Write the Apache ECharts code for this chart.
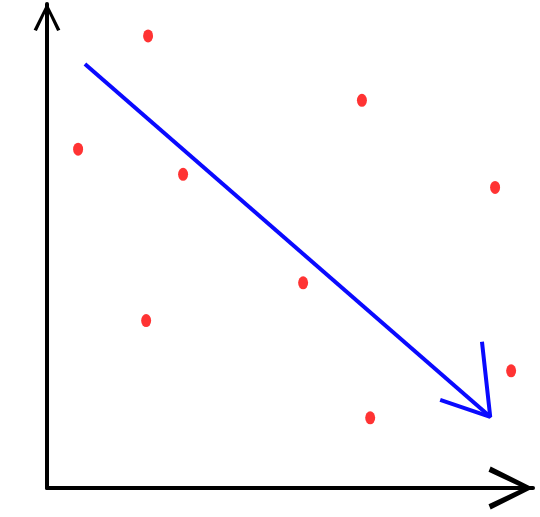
<!DOCTYPE html>
<html>
<head>
<meta charset="utf-8">
<script src="https://cdn.jsdelivr.net/npm/echarts@6/dist/echarts.min.js"></script>
<style>html,body{margin:0;padding:0;background:#fff}#c{width:540px;height:517px}</style>
</head>
<body>
<div id="c"></div>
<script>
var dotX = [2.08, 6.48, 0.64, 2.80, 9.22, 5.27, 2.04, 9.55, 6.65];
var dotY = [9.34, 8.01, 7.00, 6.48, 6.21, 4.24, 3.46, 2.42, 1.45];
var arrowX = [0.78, 9.12];
var arrowY = [8.76, 1.47];
var headX = [8.95, 9.12, 8.09];
var headY = [3.02, 1.47, 1.82];

function pairs(xs, ys){ return xs.map(function(x,i){return [x, ys[i]];}); }

var chev = 'path://M0,20 L10,0 L20,20 L17.6,21 L10,4.8 L2.4,21 Z';

var chart = echarts.init(document.getElementById('c'), null, {renderer:'canvas'});
chart.setOption({
  animation:false,
  backgroundColor:'#ffffff',
  grid:{left:47, right:7, top:4, bottom:29},
  xAxis:{type:'value', min:0, max:10,
    axisLine:{show:true, lineStyle:{color:'#000', width:4}, symbol:['none', chev], symbolSize:[54,45], symbolOffset:[0,-22]},
    axisTick:{show:false}, axisLabel:{show:false}, splitLine:{show:false}},
  yAxis:{type:'value', min:0, max:10,
    axisLine:{show:true, lineStyle:{color:'#000', width:4}, symbol:['none', chev], symbolSize:[40,28], symbolOffset:[0,-13]},
    axisTick:{show:false}, axisLabel:{show:false}, splitLine:{show:false}},
  series:[
    {type:'line', data:pairs(arrowX, arrowY), symbol:'none', lineStyle:{color:'#0a0aff', width:4}},
    {type:'line', data:pairs(headX, headY), symbol:'none', lineStyle:{color:'#0a0aff', width:4}},
    {type:'scatter', data:pairs(dotX, dotY), symbol:'circle', symbolSize:[10,13], itemStyle:{color:'#ff0000'}}
  ]
});
</script>
</body>
</html>
